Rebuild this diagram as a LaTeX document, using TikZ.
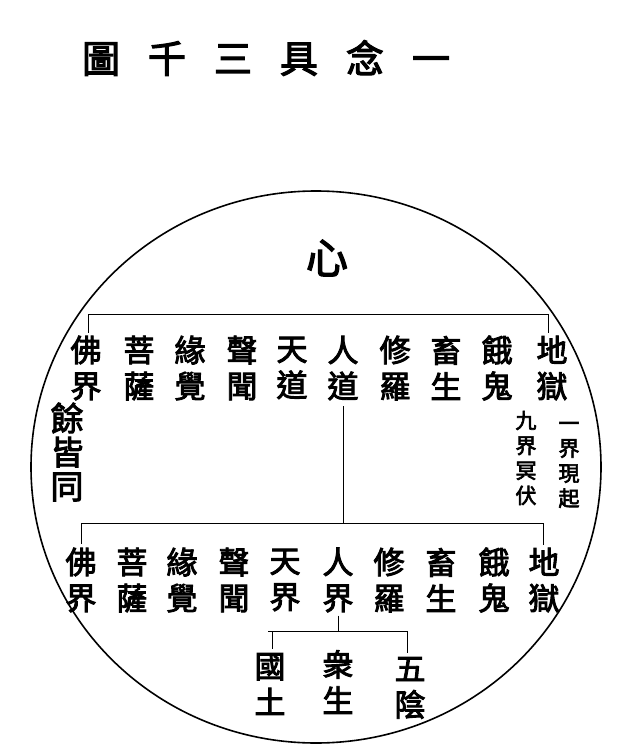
\documentclass[tikz,border=0pt]{standalone}
\usepackage{fontspec}
\newfontfamily\cjk{Noto Sans CJK TC}[FakeBold=3]
\usetikzlibrary{calc}

\begin{document}
\begin{tikzpicture}[x=1pt,y=-1pt,
  col/.style={font={\cjk\fontsize{31}{36}\selectfont},align=center,inner sep=0pt},
  side/.style={font={\cjk\fontsize{33}{34}\selectfont},align=center,inner sep=0pt},
  small/.style={font={\cjk\fontsize{21}{25}\selectfont},align=center,inner sep=0pt},
  bar/.style={line width=1pt}]
\useasboundingbox (0,0) rectangle (622,754);
% title
\node [font={\cjk\fontsize{38}{40}\selectfont},inner sep=0pt] (title) at (266,58)
  {圖\hspace{28pt}千\hspace{28pt}三\hspace{28pt}具\hspace{28pt}念\hspace{28pt}一};
\draw [line width=1.6pt] (316,467) ellipse (285 and 276);
\node [font={\cjk\fontsize{42}{44}\selectfont},inner sep=0pt] (xin) at (327,258) {心};
% upper row
\node [col] (uFo) at (86,368) {佛\\界};
\node [col] (uPu) at (139,368) {菩\\薩};
\node [col] (uYuan) at (190,368) {緣\\覺};
\node [col] (uSheng) at (242,368) {聲\\聞};
\node [col] (uTian) at (292,368) {天\\道};
\node [col] (uRen) at (343,368) {人\\道};
\node [col] (uXiu) at (395,368) {修\\羅};
\node [col] (uChu) at (446,368) {畜\\生};
\node [col] (uE) at (497,368) {餓\\鬼};
\node [col] (uDi) at (552,368) {地\\獄};
\node [side] (yu) at (67,452) {餘\\皆\\同};
\node [small] (jiu) at (526,458) {九\\界\\冥\\伏};
\node [small] (yi) at (569,465) {一\\界\\現\\起};
% lower row
\node [col] (lFo) at (81,580) {佛\\界};
\node [col] (lPu) at (132,580) {菩\\薩};
\node [col] (lYuan) at (182,580) {緣\\覺};
\node [col] (lSheng) at (234,580) {聲\\聞};
\node [col] (lTian) at (285,580) {天\\界};
\node [col] (lRen) at (338,580) {人\\界};
\node [col] (lXiu) at (389,580) {修\\羅};
\node [col] (lChu) at (441,580) {畜\\生};
\node [col] (lE) at (494,580) {餓\\鬼};
\node [col] (lDi) at (544,580) {地\\獄};
\node [col] (guo) at (270,684) {國\\土};
\node [col] (zhong) at (338,682) {衆\\生};
\node [col] (yin) at (410,688) {五\\陰};
% brackets
\coordinate (ubarL) at (88,314);
\coordinate (ubarR) at (548,314);
\draw [bar] (ubarL) -- (ubarR);
\draw [bar] (ubarL) -- ([yshift=3pt]ubarL |- uFo.north);
\draw [bar] (ubarR) -- ([yshift=3pt]ubarR |- uDi.north);
\coordinate (lbarL) at (81,523);
\coordinate (lbarR) at (543,523);
\draw [bar] (lbarL) -- (lbarR);
\draw [bar] ([yshift=-6pt]uRen.south) -- (uRen.south |- lbarL);
\draw [bar] (lbarL) -- ([yshift=4pt]lbarL |- lFo.north);
\draw [bar] (lbarR) -- ([yshift=3pt]lbarR |- lDi.north);
\coordinate (sbarL) at (268,631);
\coordinate (sbarR) at (407,631);
\coordinate (sbarT) at (272,631);
\draw [bar] (sbarL) -- (sbarR);
\draw [bar] ([yshift=-3pt]lRen.south) -- (lRen.south |- sbarL);
\draw [bar] (sbarT) -- ([yshift=4pt]sbarT |- guo.north);
\draw [bar] (sbarR) -- ([yshift=4pt]sbarR |- yin.north);
\end{tikzpicture}
\end{document}
